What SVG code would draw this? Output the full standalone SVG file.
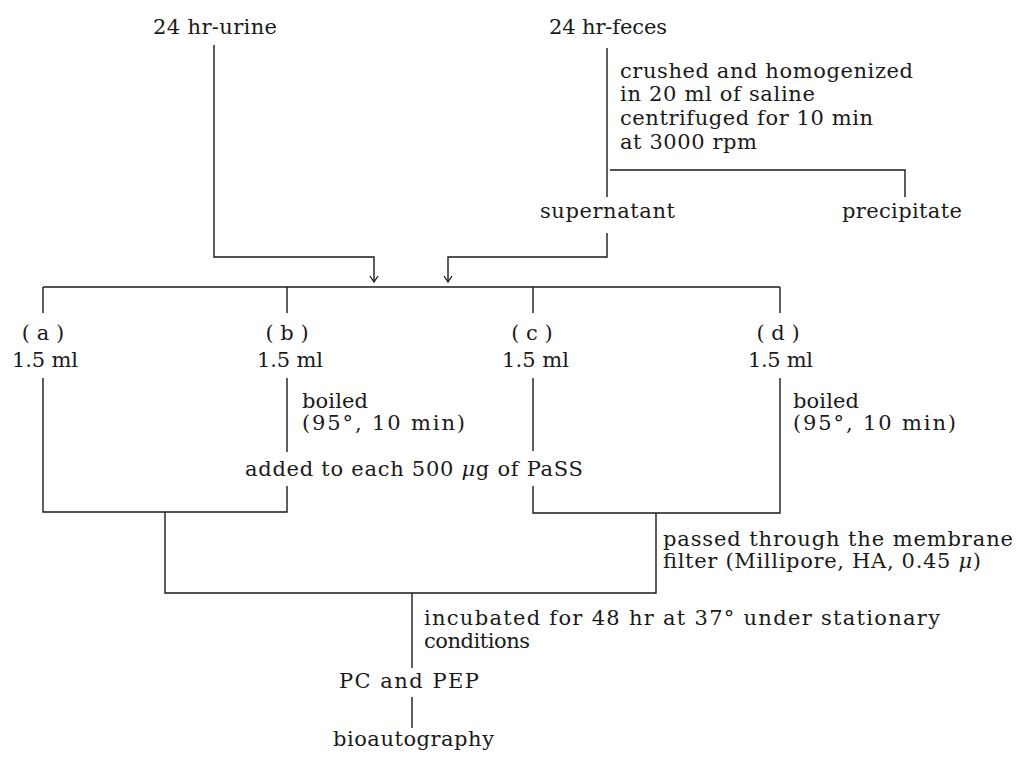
<svg xmlns="http://www.w3.org/2000/svg" width="1017" height="758" viewBox="0 0 1017 758">
<style>
text{font-family:"DejaVu Serif","Liberation Serif",serif;font-size:21px;fill:#1a1a1a}
.m{text-anchor:middle}
.c line,.c polyline{stroke:#1a1a1a;stroke-width:1.4;fill:none}
</style>
<defs>
<marker id="ah" viewBox="0 0 10 8" refX="5" refY="7" markerWidth="10" markerHeight="8" markerUnits="userSpaceOnUse" orient="0">
<path d="M1,1 L5,7 L9,1" fill="none" stroke="#1a1a1a" stroke-width="1.3"/>
</marker>
</defs>
<rect width="1017" height="758" fill="#fff"/>
<g class="c" id="connectors">
<polyline points="214,45 214,257 374,257 374,282" marker-end="url(#ah)"/>
<line x1="607" y1="48" x2="607" y2="197"/>
<polyline points="610,170 905,170 905,197"/>
<polyline points="607,233 607,257 448,257 448,282" marker-end="url(#ah)"/>
<line x1="43" y1="287" x2="780" y2="287"/>
<line x1="43" y1="287" x2="43" y2="313"/>
<line x1="287" y1="287" x2="287" y2="313"/>
<line x1="533" y1="287" x2="533" y2="313"/>
<line x1="780" y1="287" x2="780" y2="313"/>
<polyline points="43,378 43,512 287,512 287,486"/>
<line x1="287" y1="378" x2="287" y2="452"/>
<polyline points="533,486 533,513 780,513 780,378"/>
<line x1="533" y1="378" x2="533" y2="451"/>
<polyline points="165,512 165,593 656,593 656,513"/>
<line x1="412" y1="593" x2="412" y2="668"/>
<line x1="412" y1="697" x2="412" y2="728"/>
</g>
<g id="urine"><text x="153" y="34" textLength="124" lengthAdjust="spacing">24 hr-urine</text></g>
<g id="feces"><text x="549" y="34" textLength="118" lengthAdjust="spacing">24 hr-feces</text></g>
<g id="step-homogenize">
<text x="620" y="78" textLength="293" lengthAdjust="spacing">crushed and homogenized</text>
<text x="620" y="101" textLength="195" lengthAdjust="spacing">in 20 ml of saline</text>
<text x="620" y="125" textLength="253" lengthAdjust="spacing">centrifuged for 10 min</text>
<text x="620" y="149" textLength="137" lengthAdjust="spacing">at 3000 rpm</text>
</g>
<g id="supernatant"><text x="540" y="218" textLength="135" lengthAdjust="spacing">supernatant</text></g>
<g id="precipitate"><text x="842" y="218" textLength="120" lengthAdjust="spacing">precipitate</text></g>
<g id="sample-a"><text class="m" x="43" y="340">( a )</text><text x="12" y="367" textLength="66" lengthAdjust="spacing">1.5 ml</text></g>
<g id="sample-b"><text class="m" x="287" y="340">( b )</text><text x="257" y="367" textLength="66" lengthAdjust="spacing">1.5 ml</text></g>
<g id="sample-c"><text class="m" x="532" y="340">( c )</text><text x="502" y="367" textLength="67" lengthAdjust="spacing">1.5 ml</text></g>
<g id="sample-d"><text class="m" x="778" y="340">( d )</text><text x="748" y="367" textLength="65" lengthAdjust="spacing">1.5 ml</text></g>
<g id="boil-b"><text x="302" y="408" textLength="66" lengthAdjust="spacing">boiled</text><text x="302" y="430" textLength="163" lengthAdjust="spacing">(95°, 10 min)</text></g>
<g id="boil-d"><text x="793" y="408" textLength="66" lengthAdjust="spacing">boiled</text><text x="793" y="430" textLength="163" lengthAdjust="spacing">(95°, 10 min)</text></g>
<g id="add-pass"><text x="245" y="476" textLength="338" lengthAdjust="spacing">added to each 500 <tspan font-style="italic">μ</tspan>g of PaSS</text></g>
<g id="filter"><text x="663" y="546" textLength="350" lengthAdjust="spacing">passed through the membrane</text><text x="663" y="568" textLength="318" lengthAdjust="spacing">filter (Millipore, HA, 0.45 <tspan font-style="italic">μ</tspan>)</text></g>
<g id="incubate"><text x="424" y="625" textLength="516" lengthAdjust="spacing">incubated for 48 hr at 37° under stationary</text><text x="424" y="648" textLength="106" lengthAdjust="spacing">conditions</text></g>
<g id="pc-pep"><text x="339" y="688" textLength="140" lengthAdjust="spacing">PC and PEP</text></g>
<g id="bioautography"><text x="333" y="746" textLength="161" lengthAdjust="spacing">bioautography</text></g>
</svg>
